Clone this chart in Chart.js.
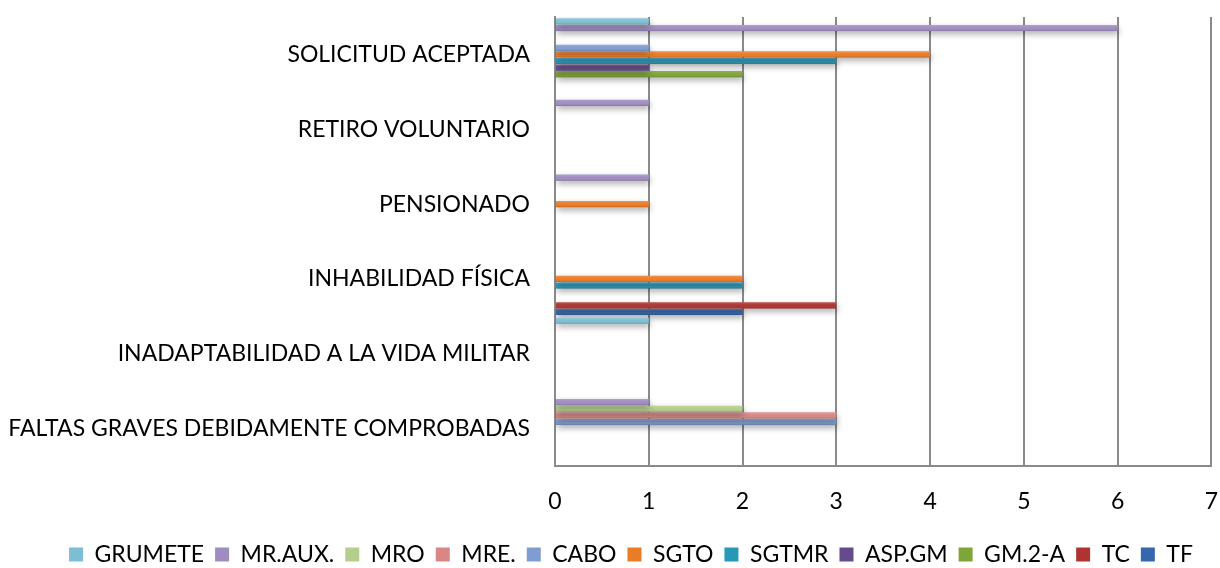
<!DOCTYPE html>
<html>
<head>
<meta charset="utf-8">
<script src="https://cdn.jsdelivr.net/npm/chart.js@4.4.1/dist/chart.umd.min.js"></script>
<style>
  html, body { margin: 0; padding: 0; background: #fff; overflow: hidden; }
  #wrap { width: 1220px; height: 576px; }
</style>
</head>
<body>
<div id="wrap"><canvas id="chart" width="1220" height="576"></canvas></div>
<script>
// categories, top to bottom
const categories = [
    'SOLICITUD ACEPTADA',
    'RETIRO VOLUNTARIO',
    'PENSIONADO',
    'INHABILIDAD FÍSICA',
    'INADAPTABILIDAD A LA VIDA MILITAR',
    'FALTAS GRAVES DEBIDAMENTE COMPROBADAS'
];

const seriesNames = ['GRUMETE', 'MR.AUX.', 'MRO', 'MRE.', 'CABO', 'SGTO', 'SGTMR', 'ASP.GM', 'GM.2-A', 'TC', 'TF'];

// one array per series, same order as categories
const grumete = [1, 0, 0, 0, 1, 0];
const mrAux   = [6, 1, 1, 0, 0, 1];
const mro     = [0, 0, 0, 0, 0, 2];
const mre     = [0, 0, 0, 0, 0, 3];
const cabo    = [1, 0, 0, 0, 0, 3];
const sgto    = [4, 0, 1, 2, 0, 0];
const sgtmr   = [3, 0, 0, 2, 0, 0];
const aspGm   = [1, 0, 0, 0, 0, 0];
const gm2a    = [2, 0, 0, 0, 0, 0];
const tc      = [0, 0, 0, 3, 0, 0];
const tf      = [0, 0, 0, 2, 0, 0];

const xTicks = [0, 1, 2, 3, 4, 5, 6, 7];

const seriesValues = [grumete, mrAux, mro, mre, cabo, sgto, sgtmr, aspGm, gm2a, tc, tf];
const colors = ['#7cbfd5', '#9f8cc1', '#b4cf89', '#d88785', '#7f9dd2', '#ec7b25', '#2898b8', '#664a8e', '#7ea537', '#ad3431', '#3467ab'];

const FONT = 'Lato, "Open Sans", sans-serif';

// soft shadow under bars plus a light-to-dark sheen across each bar
const barLook = {
    id: 'barLook',
    afterLayout (chart) {
        // legend sits a little right of centre in the original
        chart.legend.left += 25;
        chart.legend.right += 25;
    },
    beforeDatasetsDraw (chart) {
        const ctx = chart.ctx;
        ctx.save();
        ctx.shadowColor = 'rgba(0,0,0,0.35)';
        ctx.shadowBlur = 6;
        ctx.shadowOffsetX = 1;
        ctx.shadowOffsetY = 3;
    },
    afterDatasetsDraw (chart) {
        const ctx = chart.ctx;
        ctx.restore();
        ctx.save();
        chart.data.datasets.forEach((ds, i) => {
            chart.getDatasetMeta(i).data.forEach((bar) => {
                const { x, y, base, height } = bar.getProps(['x', 'y', 'base', 'height'], true);
                if (Math.abs(x - base) < 1) return;
                const top = y - height / 2;
                const g = ctx.createLinearGradient(0, top, 0, top + height);
                g.addColorStop(0, 'rgba(255,255,255,0.18)');
                g.addColorStop(0.5, 'rgba(255,255,255,0)');
                g.addColorStop(1, 'rgba(0,0,0,0.2)');
                ctx.fillStyle = g;
                ctx.fillRect(base, top, x - base, height);
            });
        });
        ctx.restore();
    }
};

new Chart(document.getElementById('chart'), {
    type: 'bar',
    data: {
        labels: categories,
        datasets: seriesNames.map((name, i) => ({
            label: name,
            data: seriesValues[i],
            backgroundColor: colors[i],
            borderWidth: 0,
            categoryPercentage: 0.97,
            barPercentage: 0.94
        }))
    },
    options: {
        indexAxis: 'y',
        responsive: false,
        animation: false,
        devicePixelRatio: 1,
        layout: { padding: { top: 17, right: 8, left: 0, bottom: 0 } },
        scales: {
            x: {
                min: 0,
                max: 7,
                afterBuildTicks: (scale) => { scale.ticks = xTicks.map(v => ({ value: v })); },
                afterFit: (scale) => { scale.height = 66; },
                grid: { color: '#8a8a8a', lineWidth: 2, drawTicks: true, tickLength: 20, tickColor: 'rgba(0,0,0,0)' },
                border: { color: '#8a8a8a', width: 2 },
                ticks: { color: '#000', padding: 2, font: { family: FONT, size: 23 } }
            },
            y: {
                afterFit: (scale) => { scale.width = 555; },
                grid: { display: true, drawOnChartArea: false, drawTicks: true, tickLength: 23, tickColor: 'rgba(0,0,0,0)' },
                border: { color: '#8a8a8a', width: 2 },
                ticks: { color: '#000', padding: 2, font: { family: FONT, size: 23 } }
            }
        },
        plugins: {
            legend: {
                position: 'bottom',
                labels: {
                    color: '#000',
                    boxWidth: 14,
                    boxHeight: 14,
                    padding: 11,
                    font: { family: FONT, size: 23 }
                }
            },
            tooltip: { enabled: false }
        }
    },
    plugins: [barLook]
});
</script>
</body>
</html>
